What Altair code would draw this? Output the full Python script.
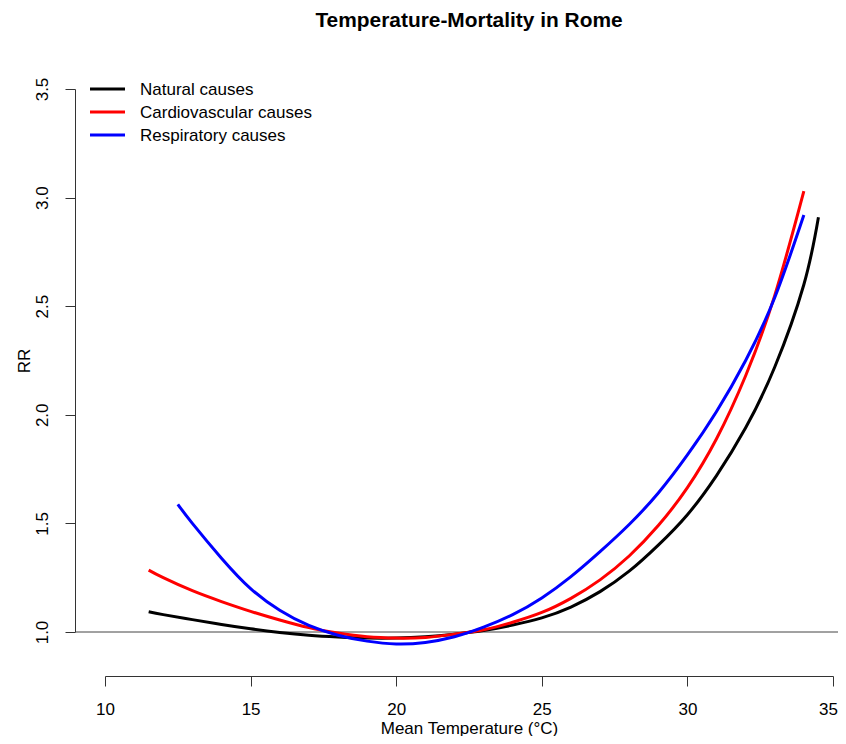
import altair as alt
import pandas as pd

# ---- data ----
series_names = ["Natural causes", "Cardiovascular causes", "Respiratory causes"]
series_colors = ["#000000", "#FF0000", "#0000FF"]

natural_x = [11.5, 12, 13, 14, 15, 16, 17, 18, 19, 20, 21, 22, 23, 24, 25, 26, 27, 28, 29, 30, 31, 32, 33, 34, 34.5]
natural_y = [1.093, 1.08, 1.057, 1.035, 1.015, 0.998, 0.985, 0.977, 0.972, 0.972, 0.978, 0.99, 1.007, 1.032,
             1.065, 1.115, 1.186, 1.28, 1.40, 1.54, 1.72, 1.94, 2.22, 2.60, 2.91]

cardio_x = [11.5, 12, 13, 14, 15, 16, 17, 18, 19, 20, 21, 22, 23, 24, 25, 26, 27, 28, 29, 30, 31, 32, 33, 34]
cardio_y = [1.285, 1.25, 1.19, 1.14, 1.095, 1.055, 1.02, 0.995, 0.978, 0.972, 0.975, 0.99, 1.01, 1.045,
            1.09, 1.155, 1.24, 1.35, 1.49, 1.665, 1.89, 2.18, 2.55, 3.03]

resp_x = [12.5, 13, 14, 15, 16, 17, 18, 19, 20, 21, 22, 23, 24, 25, 26, 27, 28, 29, 30, 31, 32, 33, 34]
resp_y = [1.588, 1.50, 1.34, 1.20, 1.10, 1.03, 0.985, 0.958, 0.945, 0.952, 0.978, 1.022, 1.08, 1.157,
          1.255, 1.37, 1.495, 1.64, 1.815, 2.015, 2.25, 2.54, 2.92]

x_ticks = [10, 15, 20, 25, 30, 35]
y_ticks = [1.0, 1.5, 2.0, 2.5, 3.0, 3.5]
reference_rr = 1.0
plot_region_x = [9, 36]   # R plot region (usr) in x, used for the abline extent

# ---- build tables ----
rows = []
for name, xs, ys in zip(series_names, [natural_x, cardio_x, resp_x], [natural_y, cardio_y, resp_y]):
    for xv, yv in zip(xs, ys):
        rows.append({"series": name, "temp": xv, "rr": yv})
df = pd.DataFrame(rows)

abline_df = pd.DataFrame({"x": [plot_region_x[0]], "x2": [plot_region_x[1]], "y": [reference_rr]})
legend_df = pd.DataFrame({"series": series_names, "row": list(range(len(series_names)))})

FONT = "Liberation Sans"
W, H = 728, 543

xscale = alt.Scale(domain=[x_ticks[0], x_ticks[-1]], nice=False, zero=False)
yscale = alt.Scale(domain=[y_ticks[0], y_ticks[-1]], nice=False, zero=False)
color_scale = alt.Scale(domain=series_names, range=series_colors)

last_x = x_ticks[-1]
x_axis = alt.Axis(values=x_ticks, format="d", title="Mean Temperature (°C)", grid=False,
                  offset=44, tickSize=10, labelPadding=15, domainColor="#333", tickColor="#333",
                  domainWidth=1, tickWidth=1, labelFont=FONT, labelFontSize=17, labelColor="#000",
                  labelOffset={"condition": {"test": f"datum.value == {last_x}", "value": -5}, "value": 0},
                  titleFont=FONT, titleFontSize=17, titleFontWeight="normal", titleColor="#000",
                  titleBaseline="alphabetic", titleY=57, labelFlush=False)
y_axis = alt.Axis(values=y_ticks, format=".1f", title="RR", grid=False,
                  offset=30, tickSize=10, labelPadding=14, domainColor="#333", tickColor="#333",
                  domainWidth=1, tickWidth=1, labelFont=FONT, labelFontSize=17, labelColor="#000",
                  labelAngle=270, labelAlign="center", labelBaseline="bottom", labelFlush=False,
                  titleFont=FONT, titleFontSize=17, titleFontWeight="normal", titleColor="#000",
                  titleAngle=270, titleBaseline="alphabetic", titleX=-46)

abline = alt.Chart(abline_df).mark_rule(color="#444", strokeWidth=1).encode(
    x=alt.X("x:Q", scale=xscale, axis=x_axis),
    x2="x2:Q",
    y=alt.Y("y:Q", scale=yscale, axis=y_axis),
)

lines = alt.Chart(df).mark_line(strokeWidth=3, interpolate="natural").encode(
    x=alt.X("temp:Q", scale=xscale),
    y=alt.Y("rr:Q", scale=yscale),
    color=alt.Color("series:N", scale=color_scale, legend=None),
    order=alt.Order("temp:Q"),
    detail="series:N",
)

main = alt.layer(abline, lines)

leg_scale = alt.Scale(domain=[0, 2], range=[0, 46])
leg_lines = alt.Chart(legend_df).mark_rule(strokeWidth=3).encode(
    x=alt.value(-15), x2=alt.value(20),
    y=alt.Y("row:Q", scale=leg_scale, axis=None),
    color=alt.Color("series:N", scale=color_scale, legend=None),
)
leg_text = alt.Chart(legend_df).mark_text(align="left", baseline="middle", font=FONT, fontSize=17,
                                          color="#000", dy=1).encode(
    x=alt.value(35),
    y=alt.Y("row:Q", scale=leg_scale, axis=None),
    text="series:N",
)
legend = alt.layer(leg_lines, leg_text)

chart = alt.layer(main, legend).resolve_scale(y="independent").properties(
    width=W, height=H,
    title=alt.TitleParams("Temperature-Mortality in Rome", font=FONT, fontSize=20.9, fontWeight="bold",
                          color="#000", anchor="middle", frame="group", offset=46),
    autosize=alt.AutoSizeParams(type="none"),
    padding={"left": 97, "top": 81, "right": 5, "bottom": 104},
).configure(background="white").configure_view(strokeOpacity=0, strokeWidth=0)

chart.save("out.html", embed_options={"renderer": "svg", "actions": False})
